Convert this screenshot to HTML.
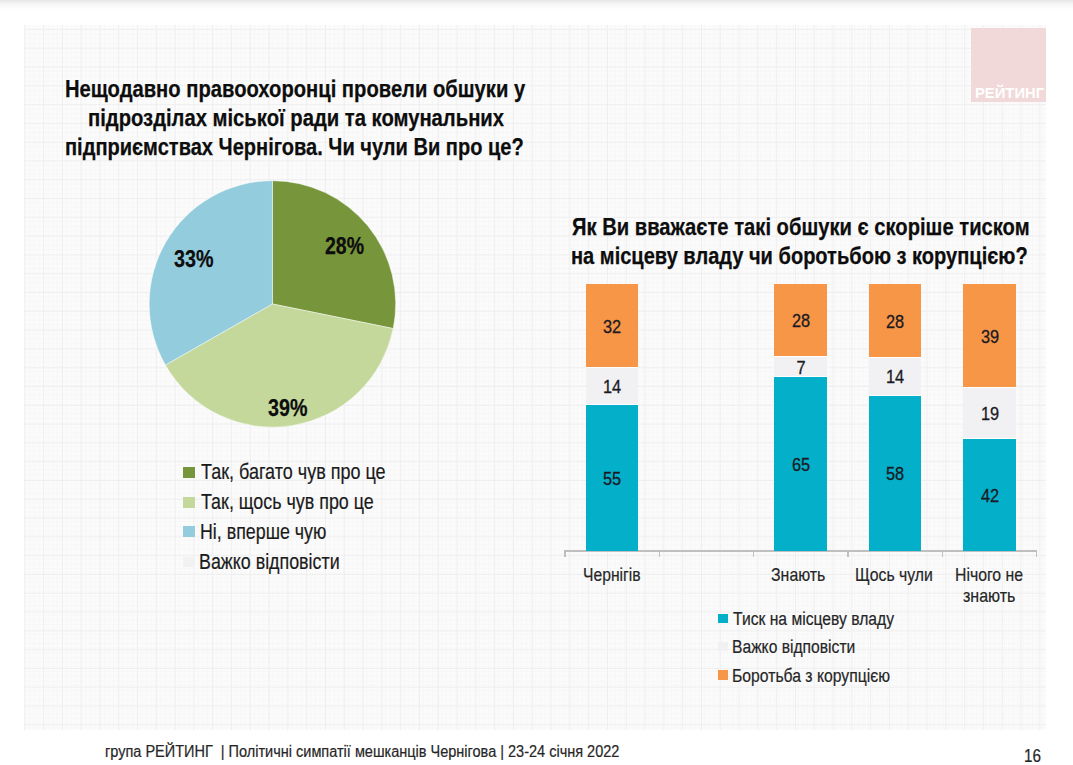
<!DOCTYPE html>
<html><head><meta charset="utf-8"><style>
html,body{margin:0;padding:0;}
body{width:1073px;height:765px;position:relative;overflow:hidden;background:#fff;font-family:"Liberation Sans", sans-serif;}
.abs{position:absolute;}
.t{position:absolute;white-space:pre;transform-origin:0 0;}
.num{transform-origin:50% 0 !important;-webkit-text-stroke:0.3px #1a1a22;}
#top{position:absolute;left:0;top:0;width:1073px;height:11px;background:linear-gradient(#e7e7e7 0px,#ececec 1.5px,#f4f4f4 3.5px,#fafafa 6px,#fdfdfd 8px,#fff 11px);}
#grid{position:absolute;left:24px;top:25px;width:1022px;height:705px;background-color:#fbfbfb;
background-image:linear-gradient(90deg,#efefef 1px,transparent 1px),linear-gradient(#efefef 1px,transparent 1px),linear-gradient(90deg,#f7f7f7 1px,transparent 1px),linear-gradient(#f7f7f7 1px,transparent 1px);
background-size:18.8px 18.8px,18.8px 18.8px,4.7px 4.7px,4.7px 4.7px;background-position:0.3px 3.9px;}
#logo{position:absolute;left:971.2px;top:28.2px;width:74.7px;height:74.2px;background:#F1D9D9;}
</style></head><body>
<div id="top"></div>
<div id="grid"></div>
<div id="logo"></div>
<svg class="abs" style="left:0;top:0" width="1073" height="765" viewBox="0 0 1073 765"><path d="M272.45,303.95 L272.45,180.70 A123.25,123.25 0 0 1 393.22,328.56 Z" fill="#77963B" stroke="#fff" stroke-opacity="0.45" stroke-width="1" stroke-linejoin="round"/><path d="M272.45,303.95 L393.22,328.56 A123.25,123.25 0 0 1 165.39,365.02 Z" fill="#C4D89C" stroke="#fff" stroke-opacity="0.45" stroke-width="1" stroke-linejoin="round"/><path d="M272.45,303.95 L165.39,365.02 A123.25,123.25 0 0 1 272.45,180.70 Z" fill="#93CCDC" stroke="#fff" stroke-opacity="0.45" stroke-width="1" stroke-linejoin="round"/></svg>
<div class="abs" style="left:183.2px;top:466.5px;width:11.6px;height:11.2px;background:#77963B"></div>
<div class="abs" style="left:183.2px;top:496.6px;width:11.6px;height:11px;background:#C4D89C"></div>
<div class="abs" style="left:183.2px;top:526.4px;width:11.6px;height:10.8px;background:#93CCDC"></div>
<div class="abs" style="left:183.2px;top:556.5px;width:11.6px;height:10.8px;background:#F2F2F2"></div>
<div class="abs" style="left:564.5px;top:550px;width:472px;height:1.8px;background:#BFBFBF"></div>
<div class="abs" style="left:585.50px;top:404.80px;width:52.6px;height:146.40px;background:#04AFCA"></div><div class="abs" style="left:585.50px;top:367.50px;width:52.6px;height:37.30px;background:#F1F1F3"></div><div class="abs" style="left:585.50px;top:283.60px;width:52.6px;height:83.90px;background:#F79646"></div><div class="abs" style="left:585.50px;top:404.30px;width:52.6px;height:1px;background:#fff"></div><div class="abs" style="left:585.50px;top:367.00px;width:52.6px;height:1px;background:#fff"></div><div class="abs" style="left:774.40px;top:376.10px;width:52.6px;height:175.10px;background:#04AFCA"></div><div class="abs" style="left:774.40px;top:356.90px;width:52.6px;height:19.20px;background:#F1F1F3"></div><div class="abs" style="left:774.40px;top:283.60px;width:52.6px;height:73.30px;background:#F79646"></div><div class="abs" style="left:774.40px;top:375.60px;width:52.6px;height:1px;background:#fff"></div><div class="abs" style="left:774.40px;top:356.40px;width:52.6px;height:1px;background:#fff"></div><div class="abs" style="left:868.80px;top:395.20px;width:52.6px;height:156.00px;background:#04AFCA"></div><div class="abs" style="left:868.80px;top:357.50px;width:52.6px;height:37.70px;background:#F1F1F3"></div><div class="abs" style="left:868.80px;top:283.60px;width:52.6px;height:73.90px;background:#F79646"></div><div class="abs" style="left:868.80px;top:394.70px;width:52.6px;height:1px;background:#fff"></div><div class="abs" style="left:868.80px;top:357.00px;width:52.6px;height:1px;background:#fff"></div><div class="abs" style="left:963.30px;top:438.70px;width:52.6px;height:112.50px;background:#04AFCA"></div><div class="abs" style="left:963.30px;top:387.30px;width:52.6px;height:51.40px;background:#F1F1F3"></div><div class="abs" style="left:963.30px;top:283.60px;width:52.6px;height:103.70px;background:#F79646"></div><div class="abs" style="left:963.30px;top:438.20px;width:52.6px;height:1px;background:#fff"></div><div class="abs" style="left:963.30px;top:386.80px;width:52.6px;height:1px;background:#fff"></div>
<div class="abs" style="left:564.30px;top:550px;width:1.5px;height:6.8px;background:#BFBFBF"></div><div class="abs" style="left:658.60px;top:550px;width:1.5px;height:6.8px;background:#BFBFBF"></div><div class="abs" style="left:752.90px;top:550px;width:1.5px;height:6.8px;background:#BFBFBF"></div><div class="abs" style="left:847.20px;top:550px;width:1.5px;height:6.8px;background:#BFBFBF"></div><div class="abs" style="left:941.50px;top:550px;width:1.5px;height:6.8px;background:#BFBFBF"></div><div class="abs" style="left:1035.80px;top:550px;width:1.5px;height:6.8px;background:#BFBFBF"></div>
<div class="abs" style="left:718.2px;top:613.5px;width:10px;height:9.6px;background:#04AFCA"></div>
<div class="abs" style="left:718.2px;top:641.9px;width:10px;height:9.6px;background:#F1F1F3"></div>
<div class="abs" style="left:718.2px;top:670.3px;width:10px;height:9.6px;background:#F79646"></div>
<div class="t num" style="left:571.80px;top:469.10px;width:80px;text-align:center;font-size:19px;line-height:19px;color:#1a1a22;transform:scaleX(0.86)">55</div><div class="t num" style="left:571.80px;top:377.25px;width:80px;text-align:center;font-size:19px;line-height:19px;color:#1a1a22;transform:scaleX(0.86)">14</div><div class="t num" style="left:571.80px;top:316.65px;width:80px;text-align:center;font-size:19px;line-height:19px;color:#1a1a22;transform:scaleX(0.86)">32</div><div class="t num" style="left:760.70px;top:454.75px;width:80px;text-align:center;font-size:19px;line-height:19px;color:#1a1a22;transform:scaleX(0.86)">65</div><div class="t num" style="left:760.70px;top:357.60px;width:80px;text-align:center;font-size:19px;line-height:19px;color:#1a1a22;transform:scaleX(0.86)">7</div><div class="t num" style="left:760.70px;top:311.35px;width:80px;text-align:center;font-size:19px;line-height:19px;color:#1a1a22;transform:scaleX(0.86)">28</div><div class="t num" style="left:855.10px;top:464.30px;width:80px;text-align:center;font-size:19px;line-height:19px;color:#1a1a22;transform:scaleX(0.86)">58</div><div class="t num" style="left:855.10px;top:367.45px;width:80px;text-align:center;font-size:19px;line-height:19px;color:#1a1a22;transform:scaleX(0.86)">14</div><div class="t num" style="left:855.10px;top:311.65px;width:80px;text-align:center;font-size:19px;line-height:19px;color:#1a1a22;transform:scaleX(0.86)">28</div><div class="t num" style="left:949.60px;top:486.05px;width:80px;text-align:center;font-size:19px;line-height:19px;color:#1a1a22;transform:scaleX(0.86)">42</div><div class="t num" style="left:949.60px;top:404.10px;width:80px;text-align:center;font-size:19px;line-height:19px;color:#1a1a22;transform:scaleX(0.86)">19</div><div class="t num" style="left:949.60px;top:326.55px;width:80px;text-align:center;font-size:19px;line-height:19px;color:#1a1a22;transform:scaleX(0.86)">39</div>
<div class="t" style="left:65.02px;top:76.70px;font-size:24px;line-height:24px;font-weight:700;color:#0d0d0d;transform:scaleX(0.8413);-webkit-text-stroke:0.25px #0d0d0d">Нещодавно правоохоронці провели обшуки у</div>
<div class="t" style="left:87.72px;top:105.50px;font-size:24px;line-height:24px;font-weight:700;color:#0d0d0d;transform:scaleX(0.8424);-webkit-text-stroke:0.25px #0d0d0d">підрозділах міської ради та комунальних</div>
<div class="t" style="left:65.03px;top:134.50px;font-size:24px;line-height:24px;font-weight:700;color:#0d0d0d;transform:scaleX(0.8350);-webkit-text-stroke:0.25px #0d0d0d">підприємствах Чернігова. Чи чули Ви про це?</div>
<div class="t" style="left:571.86px;top:214.70px;font-size:24px;line-height:24px;font-weight:700;color:#0d0d0d;transform:scaleX(0.8408);-webkit-text-stroke:0.25px #0d0d0d">Як Ви вважаєте такі обшуки є скоріше тиском</div>
<div class="t" style="left:571.03px;top:244.10px;font-size:24px;line-height:24px;font-weight:700;color:#0d0d0d;transform:scaleX(0.8351);-webkit-text-stroke:0.25px #0d0d0d">на місцеву владу чи боротьбою з корупцією?</div>
<div class="t" style="left:324.99px;top:234.00px;font-size:24px;line-height:24px;font-weight:700;color:#0d0d0d;transform:scaleX(0.8128);-webkit-text-stroke:0.25px #0d0d0d">28%</div>
<div class="t" style="left:173.68px;top:247.40px;font-size:24px;line-height:24px;font-weight:700;color:#0d0d0d;transform:scaleX(0.8213);-webkit-text-stroke:0.25px #0d0d0d">33%</div>
<div class="t" style="left:267.88px;top:395.70px;font-size:24px;line-height:24px;font-weight:700;color:#0d0d0d;transform:scaleX(0.8213);-webkit-text-stroke:0.25px #0d0d0d">39%</div>
<div class="t" style="left:200.60px;top:461.30px;font-size:22px;line-height:22px;font-weight:400;color:#1a1a1a;transform:scaleX(0.8178);-webkit-text-stroke:0.2px #1a1a1a">Так, багато чув про це</div>
<div class="t" style="left:200.60px;top:491.00px;font-size:22px;line-height:22px;font-weight:400;color:#1a1a1a;transform:scaleX(0.8127);-webkit-text-stroke:0.2px #1a1a1a">Так, щось чув про це</div>
<div class="t" style="left:199.58px;top:520.80px;font-size:22px;line-height:22px;font-weight:400;color:#1a1a1a;transform:scaleX(0.8098);-webkit-text-stroke:0.2px #1a1a1a">Ні, вперше чую</div>
<div class="t" style="left:199.38px;top:551.00px;font-size:22px;line-height:22px;font-weight:400;color:#1a1a1a;transform:scaleX(0.8112);-webkit-text-stroke:0.2px #1a1a1a">Важко відповісти</div>
<div class="t" style="left:583.07px;top:564.90px;font-size:19px;line-height:19px;font-weight:400;color:#262626;transform:scaleX(0.8250);-webkit-text-stroke:0.2px #262626">Чернігів</div>
<div class="t" style="left:771.36px;top:565.30px;font-size:19px;line-height:19px;font-weight:400;color:#262626;transform:scaleX(0.8365);-webkit-text-stroke:0.2px #262626">Знають</div>
<div class="t" style="left:855.14px;top:565.30px;font-size:19px;line-height:19px;font-weight:400;color:#262626;transform:scaleX(0.8308);-webkit-text-stroke:0.2px #262626">Щось чули</div>
<div class="t" style="left:954.84px;top:565.30px;font-size:19px;line-height:19px;font-weight:400;color:#262626;transform:scaleX(0.8316);-webkit-text-stroke:0.2px #262626">Нічого не</div>
<div class="t" style="left:963.16px;top:585.80px;font-size:19px;line-height:19px;font-weight:400;color:#262626;transform:scaleX(0.8433);-webkit-text-stroke:0.2px #262626">знають</div>
<div class="t" style="left:733.00px;top:609.70px;font-size:18px;line-height:18px;font-weight:400;color:#262626;transform:scaleX(0.8708);-webkit-text-stroke:0.2px #262626">Тиск на місцеву владу</div>
<div class="t" style="left:732.13px;top:638.00px;font-size:18px;line-height:18px;font-weight:400;color:#262626;transform:scaleX(0.8693);-webkit-text-stroke:0.2px #262626">Важко відповісти</div>
<div class="t" style="left:732.13px;top:666.80px;font-size:18px;line-height:18px;font-weight:400;color:#262626;transform:scaleX(0.8737);-webkit-text-stroke:0.2px #262626">Боротьба з корупцією</div>
<div class="t" style="left:105.29px;top:743.50px;font-size:16px;line-height:16px;font-weight:400;color:#262626;transform:scaleX(0.9064);-webkit-text-stroke:0.2px #262626">група РЕЙТИНГ  | Політичні симпатії мешканців Чернігова | 23-24 січня 2022</div>
<div class="t" style="left:1024.35px;top:747.00px;font-size:18px;line-height:18px;font-weight:400;color:#262626;transform:scaleX(0.8500);-webkit-text-stroke:0.2px #262626">16</div>
<div class="t" style="left:974.84px;top:85.60px;font-size:14px;line-height:14px;font-weight:700;color:#ffffff;transform:scaleX(1.0563)">РЕЙТИНГ</div>
</body></html>
